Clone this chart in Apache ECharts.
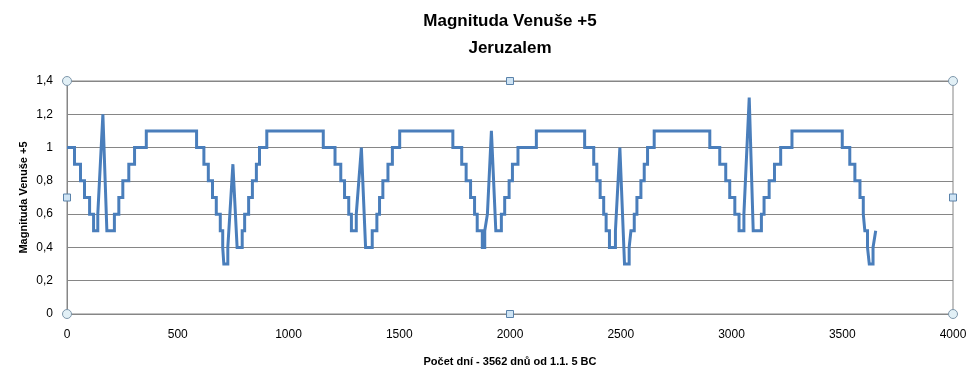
<!DOCTYPE html>
<html>
<head>
<meta charset="utf-8">
<script src="https://cdn.jsdelivr.net/npm/echarts@6/dist/echarts.min.js"></script>
<style>
html,body{margin:0;padding:0;background:#fff;}
#chart{width:980px;height:382px;}
</style>
</head>
<body>
<div id="chart"></div>
<script>
// Den (x) a magnituda (y) – body lomené čáry
const days = [
  0, 34, 34, 61, 61, 79, 79, 102, 102, 120, 120, 139, 139, 148, 162, 180, 214, 214, 234, 234, 252, 252, 279, 279, 305, 305, 358, 358,
  585, 585, 618, 618, 638, 638, 657, 657, 674, 674, 692, 692, 703, 703, 708, 708, 726, 726, 731, 749, 768, 791, 791, 802, 802, 820, 820, 837, 837, 855, 855, 869, 869, 902, 902,
  1157, 1157, 1210, 1210, 1236, 1236, 1253, 1253, 1272, 1272, 1284, 1284, 1306, 1306, 1314, 1329, 1348, 1378, 1378, 1399, 1399, 1411, 1411, 1426, 1426, 1449, 1449, 1469, 1469, 1502, 1502,
  1742, 1742, 1782, 1782, 1802, 1802, 1822, 1822, 1840, 1840, 1852, 1852, 1875, 1875, 1886, 1886, 1898, 1916, 1936, 1961, 1961, 1976, 1976, 1996, 1996, 2011, 2011, 2036, 2036, 2119, 2119,
  2337, 2337, 2378, 2378, 2392, 2392, 2407, 2407, 2423, 2423, 2434, 2434, 2449, 2449, 2476, 2476, 2482, 2496, 2517, 2538, 2538, 2546, 2546, 2561, 2561, 2573, 2573, 2591, 2591, 2606, 2606, 2621, 2621, 2651, 2651,
  2902, 2902, 2947, 2947, 2974, 2974, 2992, 2992, 3015, 3015, 3034, 3034, 3056, 3056, 3062, 3080, 3098, 3135, 3135, 3147, 3147, 3170, 3170, 3194, 3194, 3222, 3222, 3273, 3273,
  3500, 3500, 3534, 3534, 3557, 3557, 3580, 3580, 3595, 3595, 3602, 3602, 3614, 3614, 3622, 3622, 3639, 3639, 3645, 3651
];
const mags = [
  1.0, 1.0, 0.9, 0.9, 0.8, 0.8, 0.7, 0.7, 0.6, 0.6, 0.5, 0.5, 0.6, 0.6, 1.2, 0.5, 0.5, 0.6, 0.6, 0.7, 0.7, 0.8, 0.8, 0.9, 0.9, 1.0, 1.0, 1.1,
  1.1, 1.0, 1.0, 0.9, 0.9, 0.8, 0.8, 0.7, 0.7, 0.6, 0.6, 0.5, 0.5, 0.4, 0.4, 0.3, 0.3, 0.4, 0.4, 0.9, 0.4, 0.4, 0.5, 0.5, 0.6, 0.6, 0.7, 0.7, 0.8, 0.8, 0.9, 0.9, 1.0, 1.0, 1.1,
  1.1, 1.0, 1.0, 0.9, 0.9, 0.8, 0.8, 0.7, 0.7, 0.6, 0.6, 0.5, 0.5, 0.6, 0.6, 1.0, 0.4, 0.4, 0.5, 0.5, 0.6, 0.6, 0.7, 0.7, 0.8, 0.8, 0.9, 0.9, 1.0, 1.0, 1.1,
  1.1, 1.0, 1.0, 0.9, 0.9, 0.8, 0.8, 0.7, 0.7, 0.6, 0.6, 0.5, 0.5, 0.4, 0.4, 0.5, 0.6, 1.1, 0.5, 0.5, 0.6, 0.6, 0.7, 0.7, 0.8, 0.8, 0.9, 0.9, 1.0, 1.0, 1.1,
  1.1, 1.0, 1.0, 0.9, 0.9, 0.8, 0.8, 0.7, 0.7, 0.6, 0.6, 0.5, 0.5, 0.4, 0.4, 0.5, 0.5, 1.0, 0.3, 0.3, 0.4, 0.4, 0.5, 0.5, 0.6, 0.6, 0.7, 0.7, 0.8, 0.8, 0.9, 0.9, 1.0, 1.0, 1.1,
  1.1, 1.0, 1.0, 0.9, 0.9, 0.8, 0.8, 0.7, 0.7, 0.6, 0.6, 0.5, 0.5, 0.6, 0.6, 1.3, 0.5, 0.5, 0.6, 0.6, 0.7, 0.7, 0.8, 0.8, 0.9, 0.9, 1.0, 1.0, 1.1,
  1.1, 1.0, 1.0, 0.9, 0.9, 0.8, 0.8, 0.7, 0.7, 0.6, 0.6, 0.5, 0.5, 0.4, 0.4, 0.3, 0.3, 0.4, 0.4, 0.5
];
const xTicks = { min: 0, max: 4000, step: 500 };
const yTicks = { min: 0, max: 1.4, step: 0.2 };
const titleText = 'Magnituda Venuše +5\nJeruzalem';
const xName = 'Počet dní - 3562 dnů od 1.1. 5 BC';
const yName = 'Magnituda Venuše +5';

const seriesData = days.map((d, i) => [d, mags[i]]);
const FONT = '"Liberation Sans", Arial, sans-serif';
const GRID_COLOR = '#868686';

const chart = echarts.init(document.getElementById('chart'), null, { renderer: 'canvas' });
chart.setOption({
  animation: false,
  backgroundColor: '#ffffff',
  title: {
    text: titleText,
    left: 505,
    top: 3,
    textAlign: 'center',
    textStyle: { fontFamily: FONT, fontSize: 17, fontWeight: 'bold', color: '#000', lineHeight: 27 }
  },
  grid: {
    left: 67, right: 27, top: 81, bottom: 68,
    show: true, borderColor: GRID_COLOR, borderWidth: 1, backgroundColor: 'transparent'
  },
  xAxis: {
    type: 'value',
    min: xTicks.min, max: xTicks.max, interval: xTicks.step,
    name: xName, nameLocation: 'middle', nameGap: 42, nameMoveOverlap: false,
    nameTextStyle: { fontFamily: FONT, fontSize: 11, fontWeight: 'bold', color: '#000' },
    axisLine: { show: true, lineStyle: { color: GRID_COLOR } },
    axisTick: { show: false },
    axisLabel: { fontFamily: FONT, fontSize: 12, color: '#000', margin: 15, formatter: v => String(v) },
    splitLine: { show: false }
  },
  yAxis: {
    type: 'value',
    min: yTicks.min, max: yTicks.max, interval: yTicks.step,
    name: yName, nameLocation: 'middle', nameGap: 38, nameMoveOverlap: false,
    nameTextStyle: { fontFamily: FONT, fontSize: 11, fontWeight: 'bold', color: '#000' },
    axisLine: { show: true, lineStyle: { color: GRID_COLOR } },
    axisTick: { show: false },
    axisLabel: {
      fontFamily: FONT, fontSize: 12, color: '#000', margin: 14,
      formatter: v => String(Math.round(v * 10) / 10).replace('.', ',')
    },
    splitLine: { show: true, lineStyle: { color: GRID_COLOR, width: 1 } }
  },
  series: [{
    type: 'line',
    data: seriesData,
    showSymbol: false,
    symbol: 'none',
    lineStyle: { color: '#4a7ebb', width: 3, join: 'miter' },
    itemStyle: { color: '#4a7ebb' }
  }]
});

// Výběrové úchyty plochy grafu (kruhy v rozích, čtverce uprostřed hran)
const c00 = chart.convertToPixel({ gridIndex: 0 }, [xTicks.min, yTicks.min]);
const c11 = chart.convertToPixel({ gridIndex: 0 }, [xTicks.max, yTicks.max]);
const xl = c00[0], xr = c11[0], yb = c00[1], yt = c11[1];
const xm = (xl + xr) / 2, ym = (yt + yb) / 2;
const circ = (x, y) => ({ type: 'circle', shape: { cx: x, cy: y, r: 4.5 }, style: { fill: '#e2f0f6', stroke: '#7f97ab', lineWidth: 1 }, z: 100 });
const sq = (x, y) => ({ type: 'rect', shape: { x: x - 3.5, y: y - 3.5, width: 7, height: 7 }, style: { fill: '#cfe4f4', stroke: '#5a82aa', lineWidth: 1 }, z: 100 });
chart.setOption({
  graphic: [
    circ(xl, yt), circ(xr, yt), circ(xl, yb), circ(xr, yb),
    sq(xm, yt), sq(xm, yb), sq(xl, ym), sq(xr, ym)
  ]
});
</script>
</body>
</html>
